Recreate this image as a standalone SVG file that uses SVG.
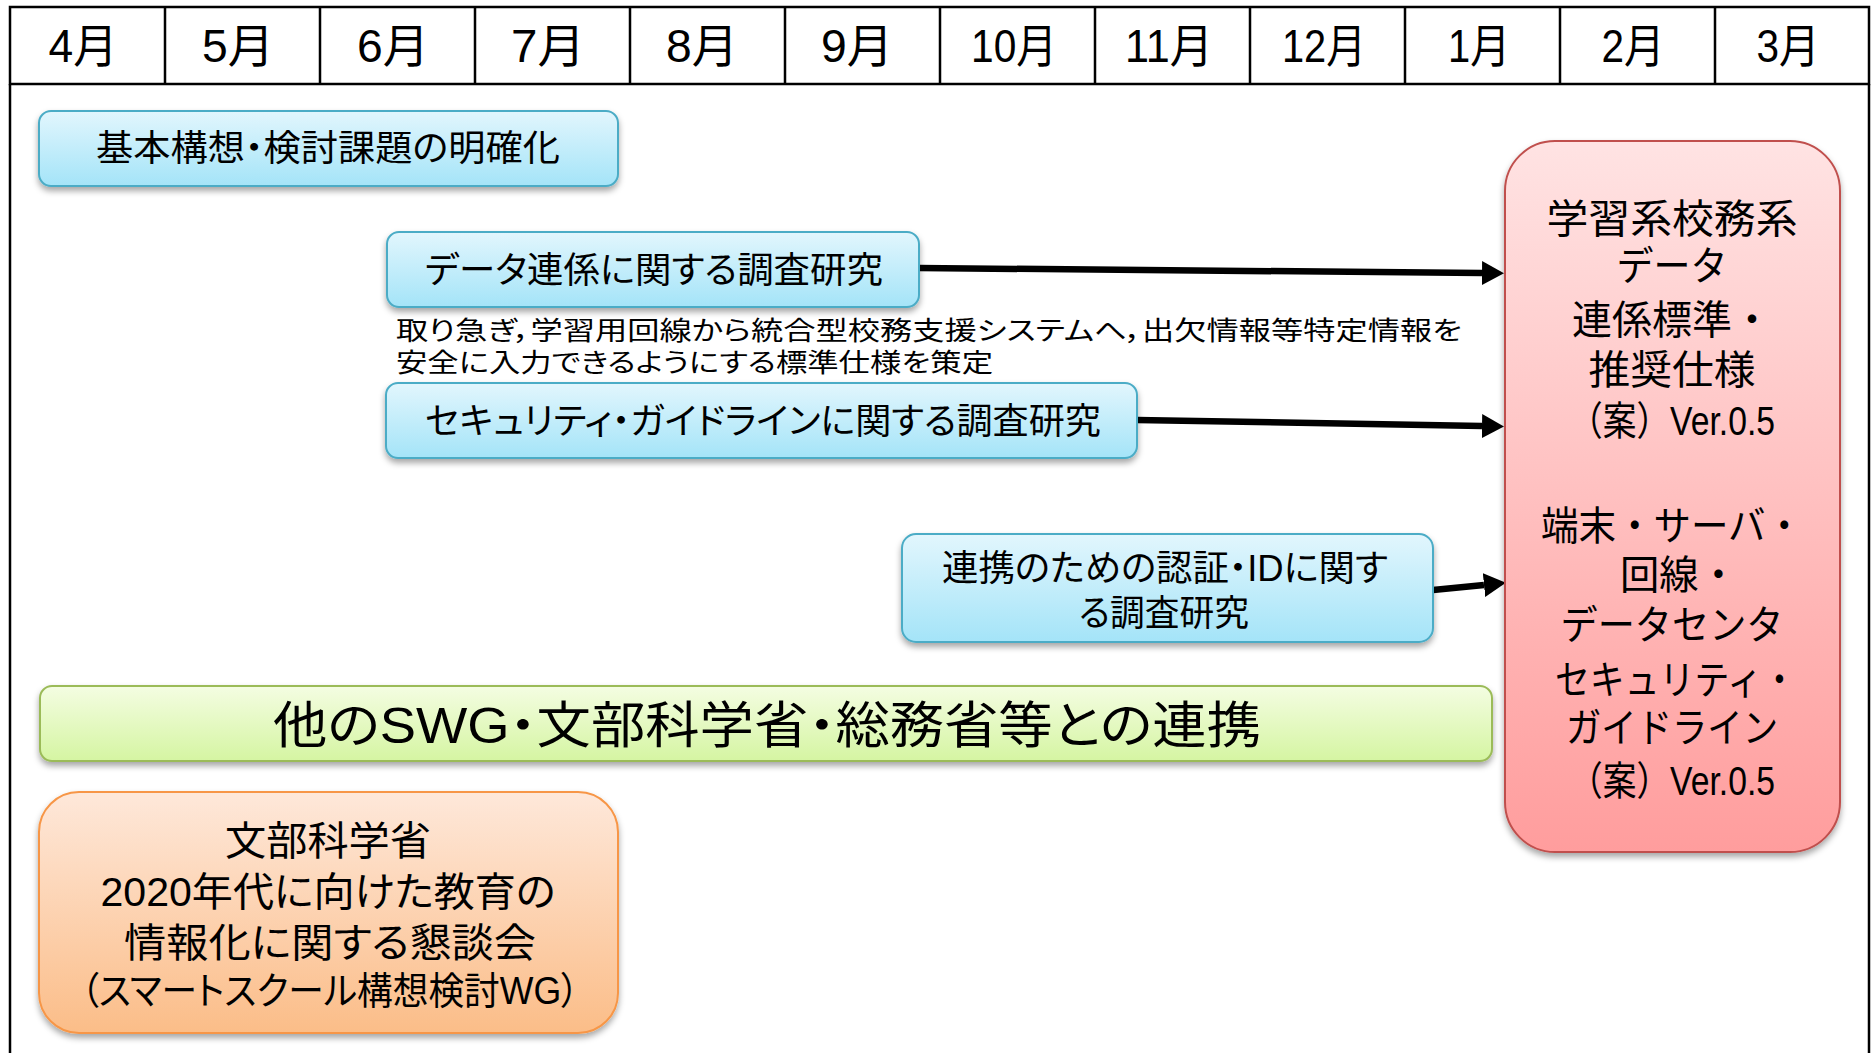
<svg xmlns="http://www.w3.org/2000/svg" width="1873" height="1053" viewBox="0 0 1873 1053">
<style>
.grid{stroke:#000;stroke-width:2.5;fill:none}
.mon{font-family:"Liberation Sans","Noto Sans CJK JP",sans-serif;font-size:46px;fill:#000;text-anchor:middle}
.lbl{font-family:"Liberation Sans","Noto Sans CJK JP",sans-serif;fill:#000;text-anchor:middle;font-feature-settings:"palt"}
.out{font-family:"Liberation Sans","Noto Sans CJK JP",sans-serif;fill:#000;text-anchor:middle;font-size:40px}
.note{font-family:"Liberation Sans","Noto Sans CJK JP",sans-serif;font-size:26px;fill:#000;font-feature-settings:"palt"}
.blue{fill:url(#gBlue);stroke:#4bacc6;stroke-width:2;filter:url(#sh)}
.green{fill:url(#gGreen);stroke:#9bbb59;stroke-width:2;filter:url(#sh)}
.orange{fill:url(#gOrange);stroke:#f79646;stroke-width:2;filter:url(#sh)}
.red{fill:url(#gRed);stroke:#c0504d;stroke-width:2;filter:url(#sh)}
.arr{stroke:#000;stroke-width:6.5;fill:none;marker-end:url(#ah)}
</style>
<defs>
<linearGradient id="gBlue" x1="0" y1="0" x2="0" y2="1"><stop offset="0" stop-color="#e2f6fd"/><stop offset="1" stop-color="#a4e4f8"/></linearGradient>
<linearGradient id="gGreen" x1="0" y1="0" x2="0" y2="1"><stop offset="0" stop-color="#f4fde2"/><stop offset="1" stop-color="#d5f5a2"/></linearGradient>
<linearGradient id="gOrange" x1="0" y1="0" x2="0" y2="1"><stop offset="0" stop-color="#fee8da"/><stop offset="1" stop-color="#fbbd88"/></linearGradient>
<linearGradient id="gRed" x1="0" y1="0" x2="0" y2="1"><stop offset="0" stop-color="#ffe3e3"/><stop offset="1" stop-color="#ff9d9d"/></linearGradient>
<filter id="sh" x="-5%" y="-10%" width="110%" height="130%"><feDropShadow dx="0" dy="4" stdDeviation="3" flood-color="#000" flood-opacity="0.35"/></filter>
<marker id="ah" markerUnits="userSpaceOnUse" markerWidth="24" markerHeight="26" refX="0" refY="12" orient="auto"><path d="M0,0 L22,12 L0,24 z" fill="#000"/></marker>
</defs>

<g id="header">
<rect x="10" y="7" width="1859" height="77" fill="#fff" class="grid"/>
<path class="grid" d="M165,7V84M320,7V84M475,7V84M630,7V84M785,7V84M940,7V84M1095,7V84M1250,7V84M1405,7V84M1560,7V84M1715,7V84M10,84V1053M1869,84V1053"/>
<text class="mon" x="83" y="62" textLength="69" lengthAdjust="spacingAndGlyphs">4月</text>
<text class="mon" x="238" y="62" textLength="72" lengthAdjust="spacingAndGlyphs">5月</text>
<text class="mon" x="393" y="62" textLength="72" lengthAdjust="spacingAndGlyphs">6月</text>
<text class="mon" x="548" y="62" textLength="74" lengthAdjust="spacingAndGlyphs">7月</text>
<text class="mon" x="702" y="62" textLength="72" lengthAdjust="spacingAndGlyphs">8月</text>
<text class="mon" x="857" y="62" textLength="72" lengthAdjust="spacingAndGlyphs">9月</text>
<text class="mon" x="1014" y="62" textLength="86" lengthAdjust="spacingAndGlyphs">10月</text>
<text class="mon" x="1169" y="62" textLength="88" lengthAdjust="spacingAndGlyphs">11月</text>
<text class="mon" x="1324" y="62" textLength="84" lengthAdjust="spacingAndGlyphs">12月</text>
<text class="mon" x="1479" y="62" textLength="62" lengthAdjust="spacingAndGlyphs">1月</text>
<text class="mon" x="1633" y="62" textLength="63" lengthAdjust="spacingAndGlyphs">2月</text>
<text class="mon" x="1788" y="62" textLength="63" lengthAdjust="spacingAndGlyphs">3月</text>
</g>

<g id="connectors">
<path class="arr" d="M919,268 L1482,273"/>
<path class="arr" d="M1137,420 L1482,426"/>
<path class="arr" d="M1433,590 L1484,585"/>
</g>

<g id="node-basic">
<rect class="blue" x="39" y="111" width="579" height="75" rx="12"/>
<text class="lbl" x="328" y="161" font-size="36" textLength="464" lengthAdjust="spacingAndGlyphs">基本構想・検討課題の明確化</text>
</g>

<g id="node-data">
<rect class="blue" x="387" y="232" width="532" height="75" rx="12"/>
<text class="lbl" x="654" y="283" font-size="36" textLength="458" lengthAdjust="spacingAndGlyphs">データ連係に関する調査研究</text>
</g>

<g id="note">
<text class="note" x="396" y="340" textLength="1066" lengthAdjust="spacingAndGlyphs">取り急ぎ，学習用回線から統合型校務支援システムへ，出欠情報等特定情報を</text>
<text class="note" x="396" y="372" textLength="597" lengthAdjust="spacingAndGlyphs">安全に入力できるようにする標準仕様を策定</text>
</g>

<g id="node-security">
<rect class="blue" x="386" y="383" width="751" height="75" rx="12"/>
<text class="lbl" x="763" y="434" font-size="36" textLength="676" lengthAdjust="spacingAndGlyphs">セキュリティ・ガイドラインに関する調査研究</text>
</g>

<g id="node-auth">
<rect class="blue" x="902" y="534" width="531" height="108" rx="14"/>
<text class="lbl" x="1165" y="581" font-size="36" textLength="446" lengthAdjust="spacingAndGlyphs">連携のための認証・IDに関す</text>
<text class="lbl" x="1164" y="626" font-size="36" textLength="170" lengthAdjust="spacingAndGlyphs">る調査研究</text>
</g>

<g id="node-collab">
<rect class="green" x="40" y="686" width="1452" height="75" rx="12"/>
<text class="lbl" x="767" y="743" font-size="50" textLength="988" lengthAdjust="spacingAndGlyphs">他のSWG・文部科学省・総務省等との連携</text>
</g>

<g id="node-mext">
<rect class="orange" x="39" y="792" width="579" height="241" rx="40"/>
<text class="lbl" x="328" y="855" font-size="40" textLength="206" lengthAdjust="spacingAndGlyphs">文部科学省</text>
<text class="lbl" x="328" y="906" font-size="40" textLength="455" lengthAdjust="spacingAndGlyphs">2020年代に向けた教育の</text>
<text class="lbl" x="330" y="957" font-size="40" textLength="412" lengthAdjust="spacingAndGlyphs">情報化に関する懇談会</text>
<text class="lbl" x="330" y="1004" font-size="38" textLength="498" lengthAdjust="spacingAndGlyphs">（スマートスクール構想検討WG）</text>
</g>

<g id="node-output">
<rect class="red" x="1505" y="141" width="335" height="711" rx="50"/>
<text class="out" x="1672" y="233" textLength="251" lengthAdjust="spacingAndGlyphs">学習系校務系</text>
<text class="out" x="1672" y="280" textLength="111" lengthAdjust="spacingAndGlyphs">データ</text>
<text class="out" x="1672" y="334" textLength="200" lengthAdjust="spacingAndGlyphs">連係標準・</text>
<text class="out" x="1672" y="384" textLength="167" lengthAdjust="spacingAndGlyphs">推奨仕様</text>
<text class="out" x="1672" y="435" font-size="38" textLength="206" lengthAdjust="spacingAndGlyphs">（案）Ver.0.5</text>
<text class="out" x="1672" y="540" textLength="262" lengthAdjust="spacingAndGlyphs">端末・サーバ・</text>
<text class="out" x="1679" y="589" textLength="118" lengthAdjust="spacingAndGlyphs">回線・</text>
<text class="out" x="1672" y="639" textLength="223" lengthAdjust="spacingAndGlyphs">データセンタ</text>
<text class="out" x="1676" y="694" textLength="242" lengthAdjust="spacingAndGlyphs">セキュリティ・</text>
<text class="out" x="1672" y="742" textLength="212" lengthAdjust="spacingAndGlyphs">ガイドライン</text>
<text class="out" x="1672" y="795" font-size="38" textLength="206" lengthAdjust="spacingAndGlyphs">（案）Ver.0.5</text>
</g>
</svg>
